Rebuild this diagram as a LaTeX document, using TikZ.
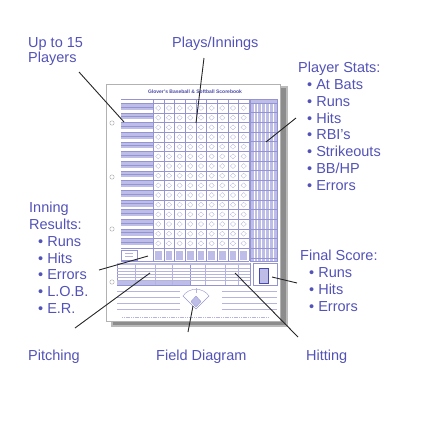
\documentclass[tikz,border=0pt]{standalone}
\usepackage{fontspec}
\setmainfont{Liberation Sans}
\usetikzlibrary{positioning}
\definecolor{labelink}{HTML}{5252B8}
\definecolor{sheetink}{HTML}{4A4AAA}
\definecolor{sheetfill}{HTML}{BDBDE8}
\definecolor{sheetline}{HTML}{9494D2}
\definecolor{shadowgray}{HTML}{8C8C8C}
\newcommand{\itm}{\hspace*{9pt}\textbullet\ }
\tikzset{
  lbl/.style={anchor=north west, inner sep=0pt, align=left, text=labelink,
    font=\fontsize{14.5}{16.8}\selectfont},
  lead/.style={draw=black!85, line width=0.9pt},
  hole/.style={draw=gray!70, fill=white, line width=0.4pt},
  gridln/.style={draw=sheetline, line width=0.3pt},
  faintln/.style={draw=sheetline!70, line width=0.3pt}
}
\begin{document}
\begin{tikzpicture}[x=1pt, y=-1pt]
\useasboundingbox (0,0) rectangle (432,432);
% the score sheet
\fill[shadowgray!60] (111,86) rectangle (288,327);
\fill[shadowgray] (113,88) rectangle (286,325);
\draw[gray!60, fill=white, line width=0.4pt] (106,84) rectangle (280,321);
\node[font=\bfseries\fontsize{5}{6}\selectfont, text=sheetink] (title) at (195,92) {Glover's Baseball \& Softball Scorebook};
\foreach \hy in {123,177,229,282} \draw[hole] (112,\hy) circle (2.2);
\draw[gridln] (121,99) -- (277,99);
\draw[gridln] (121,103) -- (249,103);
% player rows and innings
\foreach \r in {0,...,14} {
  \pgfmathsetmacro\ry{103+\r*9.67}
  \fill[sheetfill] (121,\ry+1) rectangle (153,\ry+6.8);
  \draw[gridln] (121,\ry+3.9) -- (153,\ry+3.9);
  \draw[gridln] (121,\ry+9.67) -- (249,\ry+9.67);
  \foreach \c in {0,...,8} {
    \pgfmathsetmacro\cx{153+\c*10.67}
    \draw[faintln] (\cx+5.3,\ry+2.5) -- (\cx+8,\ry+5) -- (\cx+5.3,\ry+7.5) -- (\cx+2.6,\ry+5) -- cycle;
  }
}
\foreach \c in {0,...,9} \draw[gridln] ({153+\c*10.67},99) -- ({153+\c*10.67},261);
% player stats block
\fill[sheetfill] (250,99) rectangle (277,261);
\foreach \c in {1,...,6} \draw[white, line width=0.5pt] ({250+\c*3.86},103) -- ({250+\c*3.86},261);
\foreach \r in {0,...,16} \draw[sheetline] (250,{103+\r*9.67}) -- (277,{103+\r*9.67});
\draw[gridln] (250,99) rectangle (277,261);
% inning results row
\draw[gridln] (121,250) rectangle (137,260);
\draw[faintln] (125,253) -- (133,253) (125,256) -- (133,256);
\draw[gridln] (121,261) -- (249,261);
\foreach \c in {0,...,8} \fill[sheetfill] ({153+\c*10.67+2},251) rectangle ({153+\c*10.67+8.5},260);
% pitching, hitting and final score boxes
\draw[gridln] (117,263) rectangle (250,285);
\draw[gridln] (190,263) -- (190,285);
\fill[sheetfill] (117,263) rectangle (250,265);
\fill[sheetfill] (117,281) rectangle (190,285);
\foreach \ly in {268,271,274,277,280} \draw[faintln] (117,\ly) -- (250,\ly);
\foreach \lx in {135,155,172,205,225,238} \draw[faintln] (\lx,265) -- (\lx,285);
\draw[gridln] (253,263) rectangle (277,285);
\draw[sheetink, fill=sheetfill, line width=0.5pt] (259,268) rectangle (268,283);
% notes lines and field diagram
\foreach \ly in {291,297,303,309} {
  \draw[faintln] (117,\ly) -- (180,\ly);
  \draw[faintln] (222,\ly) -- (277,\ly);
}
\draw[sheetline, fill=white, line width=0.4pt] (196,309) -- (183,296) .. controls (189,287) and (203,287) .. (209,296) -- cycle;
\draw[sheetline, fill=sheetfill, line width=0.3pt] (196,307) -- (191,301.5) -- (196,296) -- (201,301.5) -- cycle;
\draw[faintln] (196,288) -- (196,293);
\draw[sheetline!70, line width=0.8pt, dash pattern=on 1.2pt off 0.6pt] (122,317) -- (268,317);
% labels
\node[lbl] (players) at (28,37) {Up to 15\\[-1.8pt]Players};
\node[lbl] (plays) at (172,37) {Plays/Innings};
\node[lbl] (stats) at (298,62) {Player Stats:\\\itm At Bats\\\itm Runs\\\itm Hits\\\itm RBI's\\\itm Strikeouts\\\itm BB/HP\\\itm Errors};
\node[lbl] (results) at (29,202) {Inning\\Results:\\\itm Runs\\\itm Hits\\\itm Errors\\\itm L.O.B.\\\itm E.R.};
\node[lbl] (final) at (300,250) {Final Score:\\\itm Runs\\\itm Hits\\\itm Errors};
\node[lbl] (pitching) at (28,350) {Pitching};
\node[lbl] (field) at (156,350) {Field Diagram};
\node[lbl] (hitting) at (306,350) {Hitting};
% leader lines
\coordinate (pl-a) at (79,72);  \coordinate (pl-b) at (124,122);
\coordinate (pi-a) at (204,58); \coordinate (pi-b) at (196,123);
\coordinate (ps-a) at (296,118); \coordinate (ps-b) at (266,142);
\coordinate (ir-a) at (99,270); \coordinate (ir-b) at (148,256);
\coordinate (pt-a) at (75,328); \coordinate (pt-b) at (150,273);
\coordinate (fd-a) at (188,332); \coordinate (fd-b) at (193,306);
\coordinate (ht-a) at (298,337); \coordinate (ht-b) at (235,273);
\coordinate (fs-a) at (297,283); \coordinate (fs-b) at (272,277);
\draw[lead] (pl-a) -- (pl-b); \draw[lead] (pi-a) -- (pi-b);
\draw[lead] (ps-a) -- (ps-b); \draw[lead] (ir-a) -- (ir-b);
\draw[lead] (pt-a) -- (pt-b); \draw[lead] (fd-a) -- (fd-b);
\draw[lead] (ht-a) -- (ht-b); \draw[lead] (fs-a) -- (fs-b);
\end{tikzpicture}
\end{document}
